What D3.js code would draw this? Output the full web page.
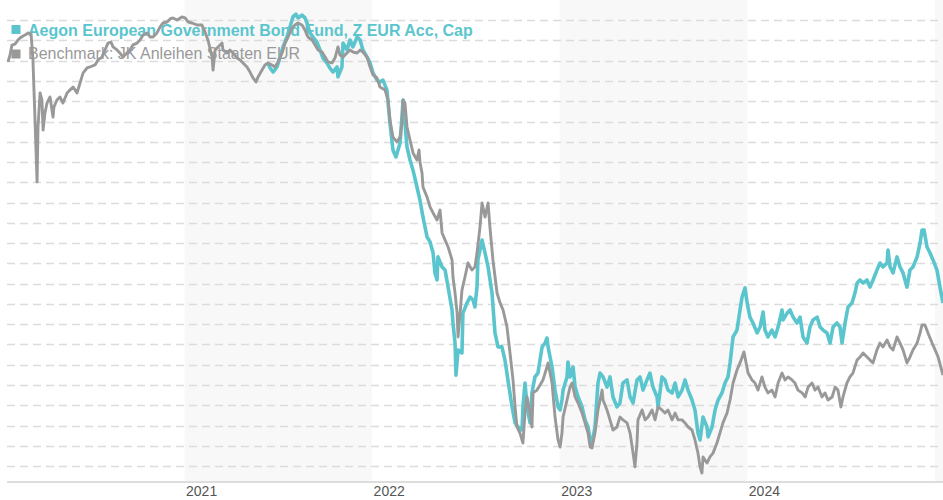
<!DOCTYPE html>
<html><head><meta charset="utf-8">
<script src="https://cdn.jsdelivr.net/npm/d3@7"></script>
<style>body{margin:0;background:#fff;} svg{display:block}</style>
</head><body><svg id="c" width="943" height="500"></svg>
<script>
// x: decimal year, y: indexed value (one gridline = 1 point)
const yearTicks = [2021, 2022, 2023, 2024];
const shadedYears = [2021, 2023, 2025];
const gridValues = [80,81,82,83,84,85,86,87,88,89,90,91,92,93,94,95,96,97,98,99,100,101,102];
const seriesNames = ["Aegon European Government Bond Fund, Z EUR Acc, Cap", "Benchmark: JK Anleihen Staaten EUR"];
const seriesColors = ["#5bc5ce", "#999999"];

const benchmarkSeries = [[2020.059,99.94],[2020.070,100.28],[2020.080,100.77],[2020.096,100.82],[2020.112,101.02],[2020.123,101.12],[2020.139,101.22],[2020.150,101.27],[2020.166,101.37],[2020.182,101.32],[2020.192,100.04],[2020.203,97.07],[2020.214,94.02],[2020.219,96.73],[2020.230,98.41],[2020.240,98.06],[2020.246,96.58],[2020.256,97.42],[2020.267,97.91],[2020.283,98.21],[2020.299,97.22],[2020.304,97.72],[2020.320,98.06],[2020.336,98.21],[2020.352,97.91],[2020.374,98.41],[2020.390,98.56],[2020.406,98.70],[2020.427,98.41],[2020.443,98.90],[2020.459,99.39],[2020.480,99.64],[2020.496,99.69],[2020.523,99.79],[2020.539,100.04],[2020.560,100.18],[2020.576,100.53],[2020.592,100.87],[2020.608,100.92],[2020.619,100.68],[2020.640,100.53],[2020.656,100.38],[2020.672,100.18],[2020.693,100.38],[2020.709,100.53],[2020.725,100.78],[2020.747,100.87],[2020.763,101.02],[2020.779,101.27],[2020.800,101.37],[2020.816,101.17],[2020.832,101.17],[2020.853,101.37],[2020.869,101.66],[2020.885,101.86],[2020.907,101.91],[2020.923,102.06],[2020.938,102.11],[2020.960,102.01],[2020.986,102.16],[2021.003,102.11],[2021.019,101.91],[2021.040,101.86],[2021.067,101.76],[2021.093,101.76],[2021.109,101.42],[2021.125,101.02],[2021.147,100.18],[2021.152,99.54],[2021.163,100.53],[2021.179,100.68],[2021.200,100.87],[2021.205,100.53],[2021.227,100.38],[2021.242,100.53],[2021.258,100.38],[2021.280,100.13],[2021.296,100.04],[2021.312,99.89],[2021.333,99.69],[2021.349,99.44],[2021.365,99.15],[2021.381,98.95],[2021.392,99.20],[2021.413,99.54],[2021.429,99.79],[2021.445,99.89],[2021.466,99.79],[2021.482,99.69],[2021.498,99.94],[2021.520,100.38],[2021.536,100.87],[2021.552,101.17],[2021.573,101.61],[2021.589,101.76],[2021.605,101.86],[2021.626,101.76],[2021.642,101.51],[2021.658,101.17],[2021.680,101.02],[2021.696,100.78],[2021.712,100.53],[2021.733,100.43],[2021.749,100.18],[2021.765,99.94],[2021.786,99.89],[2021.802,100.13],[2021.818,100.68],[2021.829,100.28],[2021.845,100.18],[2021.866,100.38],[2021.882,100.53],[2021.898,100.43],[2021.920,100.38],[2021.936,100.53],[2021.951,100.43],[2021.973,100.18],[2021.989,99.69],[2022.005,99.30],[2022.026,99.15],[2022.042,98.70],[2022.069,98.55],[2022.085,98.06],[2022.095,97.07],[2022.111,96.23],[2022.133,95.99],[2022.149,96.23],[2022.159,96.93],[2022.165,98.06],[2022.175,97.91],[2022.186,96.73],[2022.202,96.09],[2022.218,95.45],[2022.239,95.10],[2022.250,95.60],[2022.255,95.00],[2022.266,94.46],[2022.271,93.77],[2022.293,93.27],[2022.309,92.78],[2022.325,92.49],[2022.346,92.14],[2022.362,92.63],[2022.373,91.50],[2022.389,91.15],[2022.405,90.81],[2022.426,90.17],[2022.431,89.33],[2022.442,88.54],[2022.453,87.55],[2022.458,86.37],[2022.469,87.55],[2022.479,88.69],[2022.495,89.33],[2022.511,90.02],[2022.532,89.67],[2022.548,89.82],[2022.559,90.51],[2022.575,91.79],[2022.586,92.98],[2022.602,92.29],[2022.618,92.98],[2022.628,91.79],[2022.644,90.17],[2022.666,88.54],[2022.682,88.05],[2022.698,87.70],[2022.719,86.86],[2022.735,85.58],[2022.751,84.25],[2022.762,82.92],[2022.772,81.93],[2022.788,81.63],[2022.804,81.14],[2022.815,82.62],[2022.826,83.41],[2022.842,82.62],[2022.852,81.93],[2022.858,83.61],[2022.879,83.75],[2022.895,84.00],[2022.911,84.25],[2022.932,84.89],[2022.938,85.09],[2022.959,84.10],[2022.975,82.42],[2022.991,81.29],[2023.002,80.94],[2023.012,81.63],[2023.018,82.42],[2023.039,83.26],[2023.055,83.90],[2023.066,84.10],[2023.082,83.41],[2023.098,83.11],[2023.119,82.62],[2023.135,82.13],[2023.151,81.63],[2023.162,80.94],[2023.172,80.89],[2023.188,81.63],[2023.204,82.77],[2023.226,83.75],[2023.231,83.26],[2023.252,82.77],[2023.268,82.28],[2023.284,81.78],[2023.305,81.93],[2023.321,82.42],[2023.337,82.28],[2023.359,82.13],[2023.375,81.63],[2023.391,80.64],[2023.401,79.96],[2023.412,81.14],[2023.417,82.28],[2023.439,82.77],[2023.455,82.28],[2023.471,82.42],[2023.492,82.77],[2023.508,82.28],[2023.524,82.92],[2023.545,82.77],[2023.561,82.62],[2023.577,82.77],[2023.599,82.28],[2023.615,82.62],[2023.631,82.28],[2023.652,82.28],[2023.668,82.13],[2023.684,81.93],[2023.705,81.78],[2023.721,81.29],[2023.737,80.64],[2023.748,79.96],[2023.758,79.66],[2023.764,80.45],[2023.785,80.15],[2023.801,80.45],[2023.817,80.64],[2023.838,81.14],[2023.854,81.63],[2023.870,82.13],[2023.892,82.62],[2023.908,83.26],[2023.924,84.10],[2023.945,84.74],[2023.961,85.09],[2023.982,85.63],[2024.004,84.59],[2024.025,84.25],[2024.041,84.10],[2024.057,83.75],[2024.078,84.40],[2024.094,83.90],[2024.110,83.61],[2024.131,83.75],[2024.148,83.41],[2024.164,84.10],[2024.185,84.59],[2024.201,84.25],[2024.217,84.40],[2024.238,84.25],[2024.254,84.10],[2024.270,83.75],[2024.292,83.61],[2024.308,83.41],[2024.324,83.90],[2024.345,84.10],[2024.361,83.75],[2024.377,83.90],[2024.398,83.41],[2024.414,83.61],[2024.430,83.26],[2024.452,83.41],[2024.468,83.90],[2024.483,83.75],[2024.499,82.92],[2024.510,83.41],[2024.531,84.10],[2024.547,84.40],[2024.563,84.59],[2024.585,85.23],[2024.601,85.38],[2024.617,85.58],[2024.638,85.38],[2024.654,85.23],[2024.670,85.09],[2024.691,85.73],[2024.707,86.07],[2024.723,85.88],[2024.745,86.22],[2024.761,85.88],[2024.777,85.73],[2024.798,86.37],[2024.814,86.07],[2024.830,85.73],[2024.851,85.09],[2024.867,85.38],[2024.883,85.73],[2024.905,86.07],[2024.921,86.57],[2024.931,86.96],[2024.947,86.96],[2024.963,86.57],[2024.985,86.07],[2025.001,85.73],[2025.017,85.38],[2025.043,84.49]];

const fundSeries = [[2021.445,99.89],[2021.456,99.64],[2021.472,99.44],[2021.493,99.69],[2021.509,100.18],[2021.525,100.68],[2021.546,101.17],[2021.562,101.66],[2021.578,102.16],[2021.594,102.30],[2021.605,102.11],[2021.626,102.25],[2021.642,102.11],[2021.653,101.86],[2021.669,101.37],[2021.685,101.17],[2021.706,100.92],[2021.722,100.53],[2021.738,100.13],[2021.759,99.89],[2021.775,99.64],[2021.791,99.44],[2021.813,99.69],[2021.818,99.20],[2021.839,99.69],[2021.845,100.87],[2021.866,100.53],[2021.882,101.02],[2021.898,100.68],[2021.920,101.17],[2021.936,101.02],[2021.951,100.53],[2021.973,100.18],[2021.989,99.89],[2022.005,99.39],[2022.026,99.04],[2022.042,98.95],[2022.058,99.04],[2022.079,98.55],[2022.095,96.93],[2022.111,95.59],[2022.127,95.25],[2022.149,95.94],[2022.159,97.22],[2022.165,98.06],[2022.186,95.74],[2022.202,95.10],[2022.218,94.60],[2022.239,93.77],[2022.255,93.12],[2022.271,92.29],[2022.293,91.30],[2022.309,91.06],[2022.325,90.51],[2022.335,89.53],[2022.346,89.18],[2022.351,90.32],[2022.373,89.82],[2022.389,89.67],[2022.405,88.83],[2022.426,87.70],[2022.431,87.06],[2022.442,86.07],[2022.447,84.49],[2022.458,85.73],[2022.479,85.58],[2022.484,87.55],[2022.506,88.05],[2022.522,88.34],[2022.538,88.19],[2022.548,87.85],[2022.559,88.83],[2022.564,90.17],[2022.586,91.15],[2022.602,90.51],[2022.618,89.82],[2022.639,88.54],[2022.655,86.57],[2022.671,85.88],[2022.692,85.88],[2022.708,85.23],[2022.724,84.25],[2022.746,82.92],[2022.762,82.13],[2022.778,81.93],[2022.799,81.78],[2022.804,82.92],[2022.815,84.10],[2022.826,82.92],[2022.842,82.13],[2022.852,83.61],[2022.868,84.40],[2022.884,84.59],[2022.906,85.88],[2022.922,86.07],[2022.932,86.32],[2022.938,85.88],[2022.959,84.89],[2022.975,83.75],[2022.991,82.92],[2023.002,82.77],[2023.012,83.26],[2023.018,83.75],[2023.039,84.40],[2023.044,85.13],[2023.055,84.40],[2023.071,84.89],[2023.082,83.90],[2023.098,83.41],[2023.119,82.92],[2023.135,82.28],[2023.151,81.93],[2023.162,81.29],[2023.172,81.14],[2023.188,81.93],[2023.204,84.10],[2023.215,84.59],[2023.231,84.40],[2023.252,83.90],[2023.268,84.40],[2023.284,83.41],[2023.305,82.92],[2023.321,83.11],[2023.337,84.10],[2023.359,84.25],[2023.375,83.41],[2023.391,83.11],[2023.412,84.25],[2023.428,84.40],[2023.444,83.75],[2023.465,84.25],[2023.481,84.59],[2023.497,83.90],[2023.519,83.41],[2023.524,82.92],[2023.545,84.40],[2023.561,84.25],[2023.577,83.75],[2023.599,83.61],[2023.615,84.10],[2023.631,83.41],[2023.652,83.75],[2023.668,84.25],[2023.684,83.75],[2023.705,83.26],[2023.721,82.77],[2023.737,81.63],[2023.748,81.29],[2023.764,82.42],[2023.785,81.93],[2023.791,81.44],[2023.812,81.93],[2023.828,82.77],[2023.844,83.26],[2023.865,83.61],[2023.881,84.10],[2023.897,84.40],[2023.908,85.09],[2023.924,86.37],[2023.945,86.71],[2023.961,87.70],[2023.972,88.34],[2023.988,88.79],[2023.999,88.05],[2024.014,87.35],[2024.030,87.06],[2024.052,86.57],[2024.068,86.86],[2024.084,87.60],[2024.094,86.71],[2024.110,86.37],[2024.131,86.71],[2024.148,86.37],[2024.164,86.86],[2024.185,87.70],[2024.190,87.21],[2024.212,87.55],[2024.228,87.70],[2024.244,87.35],[2024.265,87.06],[2024.281,87.35],[2024.297,86.37],[2024.318,86.07],[2024.334,86.86],[2024.350,87.21],[2024.372,87.35],[2024.388,86.86],[2024.404,86.71],[2024.425,86.57],[2024.441,86.07],[2024.457,86.86],[2024.478,87.06],[2024.494,86.86],[2024.505,86.07],[2024.521,87.06],[2024.537,87.85],[2024.558,88.05],[2024.574,88.54],[2024.585,89.03],[2024.601,89.18],[2024.617,89.03],[2024.638,89.18],[2024.654,88.83],[2024.670,89.18],[2024.691,89.67],[2024.707,90.02],[2024.723,89.82],[2024.745,90.02],[2024.750,90.66],[2024.761,89.82],[2024.777,89.53],[2024.798,90.32],[2024.814,89.82],[2024.830,89.53],[2024.851,88.83],[2024.867,89.67],[2024.883,89.82],[2024.905,90.32],[2024.921,91.01],[2024.931,91.64],[2024.942,91.64],[2024.958,90.81],[2024.974,90.51],[2024.990,90.17],[2025.011,89.67],[2025.027,88.83],[2025.043,88.05]];

const W = 943, H = 500, plotLeft = 7, plotBottom = 482;
const svg = d3.select("#c");
const x = d3.scaleLinear().domain([2020.0164, 2025.0431]).range([0, W]);
const y = d3.scaleLinear().domain([79.2156, 102.9946]).range([plotBottom, 0]);

// alternating year bands
svg.append("g").selectAll("rect").data(shadedYears).join("rect")
  .attr("x", d => x(d))
  .attr("width", d => Math.max(0, Math.min(x(d + 1), W) - x(d)))
  .attr("y", 0).attr("height", plotBottom)
  .attr("fill", "#f8f8f8");

// dashed gridlines
svg.append("g").selectAll("line").data(gridValues).join("line")
  .attr("x1", plotLeft).attr("x2", W)
  .attr("y1", d => Math.round(y(d)) + 0.5).attr("y2", d => Math.round(y(d)) + 0.5)
  .attr("stroke", "#dcdcdc").attr("stroke-width", 1.3)
  .attr("stroke-dasharray", "8,5");

// x axis
const axis = d3.axisBottom(x).tickValues(yearTicks).tickFormat(d3.format("d")).tickSize(0);
const gx = svg.append("g").attr("transform", `translate(0,${plotBottom})`).call(axis);
gx.select(".domain").remove();
gx.selectAll("text")
  .attr("text-anchor", "start").attr("x", 1).attr("y", 14).attr("dy", 0)
  .attr("fill", "#555").style("font-family", "'Liberation Sans', Arial, sans-serif").style("font-size", "14px");
svg.append("line").attr("x1", plotLeft).attr("x2", W)
  .attr("y1", plotBottom).attr("y2", plotBottom)
  .attr("stroke", "#dddddd").attr("stroke-width", 2);

// legend (drawn beneath lines)
const legend = svg.append("g").style("font-family", "'Liberation Sans', Arial, sans-serif").style("font-size", "16px");
seriesNames.forEach((name, i) => {
  legend.append("rect").attr("x", 11.5).attr("y", 25 + i * 24.5).attr("width", 9).attr("height", 9).attr("fill", seriesColors[i]);
  legend.append("text").attr("x", 28).attr("y", 35.5 + i * 23.5)
    .attr("fill", seriesColors[i]).style("font-weight", i === 0 ? "bold" : "normal")
    .text(name);
});

const line = d3.line().x(d => x(d[0])).y(d => y(d[1])).curve(d3.curveLinear);
svg.append("path").datum(fundSeries).attr("d", line)
  .attr("fill", "none").attr("stroke", seriesColors[0]).attr("stroke-width", 3.6).attr("stroke-linejoin", "round");
svg.append("path").datum(benchmarkSeries).attr("d", line)
  .attr("fill", "none").attr("stroke", seriesColors[1]).attr("stroke-width", 2.9).attr("stroke-linejoin", "round");
</script></body></html>
